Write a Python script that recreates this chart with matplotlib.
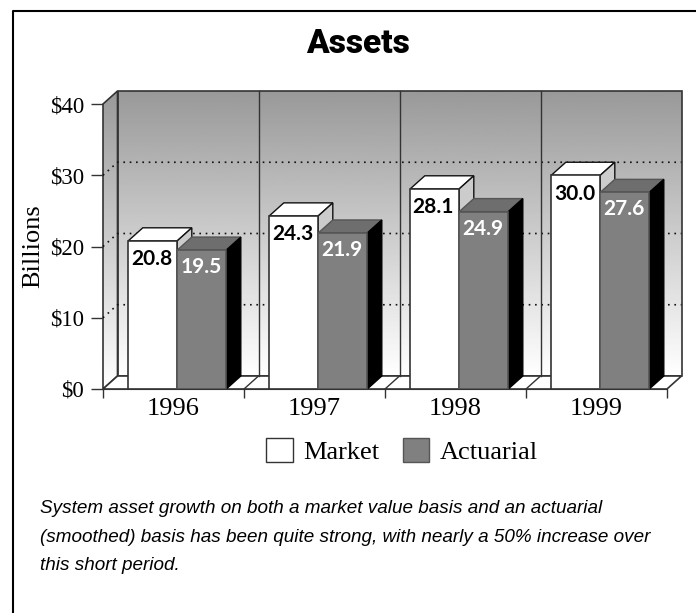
import numpy as np
import matplotlib
matplotlib.use('Agg')
import matplotlib.pyplot as plt
from matplotlib.lines import Line2D
from matplotlib.patches import Patch, Polygon

years = ['1996', '1997', '1998', '1999']
market = [20.8, 24.3, 28.1, 30.0]
actuarial = [19.5, 21.9, 24.9, 27.6]
yticks = [0, 10, 20, 30, 40]
ylabels = ['$0', '$10', '$20', '$30', '$40']
caption = ('System asset growth on both a market value basis and an actuarial\n'
           '(smoothed) basis has been quite strong, with nearly a 50% increase over\n'
           'this short period.')

W, H = 696, 613
SERIF = 'Liberation Serif'
SANS = 'Lato'
EDGE = '#333333'
GREY = '#808080'

fig = plt.figure(figsize=(W / 100, H / 100), dpi=100)
ax = fig.add_axes([103 / W, 1 - 389 / H, 564 / W, 285 / H])
ax.set_xlim(0, 4)
ax.set_ylim(0, 40)

# depth of the fake 3d box, in data units
dx = 14.5 / 141
dy = 13 / 7.125
bar_w = 49 / 141
bar_off = 25.3 / 141

grad = np.linspace(0.6, 1, 256).reshape(-1, 1)
ax.imshow(grad, cmap='gray', vmin=0, vmax=1, aspect='auto', zorder=1,
          extent=(dx, 4 + dx, dy, 40 + dy), clip_on=False)
side = ax.imshow(grad, cmap='gray', vmin=0, vmax=1, aspect='auto', zorder=1,
                 extent=(0, dx, 0, 40 + dy))
wall = Polygon([(0, 0), (0, 40), (dx, 40 + dy), (dx, dy)], closed=True, fill=False,
               edgecolor=EDGE, lw=1.2, zorder=2, clip_on=False)
ax.add_patch(wall)
side.set_clip_path(wall)
side.set_clip_box(fig.bbox)
ax.set_xlim(0, 4)
ax.set_ylim(0, 40)

# back wall outline, floor
ax.add_patch(Polygon([(dx, dy), (dx, 40 + dy), (4 + dx, 40 + dy), (4 + dx, dy)], closed=True,
                     fill=False, edgecolor=EDGE, lw=1.2, zorder=2, clip_on=False))
ax.add_patch(Polygon([(0, 0), (dx, dy), (4 + dx, dy), (4, 0)], closed=True,
                     facecolor='white', edgecolor=EDGE, lw=1.2, zorder=2, clip_on=False))

for v in yticks[1:-1]:
    ax.plot([0, dx, 4 + dx], [v, v + dy, v + dy], color='#111111', lw=1.2,
            ls=(0, (1, 2.8)), zorder=3, clip_on=False)
for i in range(1, 4):
    ax.plot([i + dx, i + dx], [dy, 40 + dy], color=EDGE, lw=1, zorder=3, clip_on=False)
    ax.plot([i, i + dx], [0, dy], color=EDGE, lw=1, zorder=3)

for i in range(len(years)):
    x1 = i + bar_off
    x2 = x1 + bar_w
    x3 = x2 + bar_w
    m, a = market[i], actuarial[i]
    # market bar
    ax.add_patch(Polygon([(x1, m), (x1 + dx, m + dy), (x2 + dx, m + dy), (x2, m)],
                         facecolor='white', edgecolor='#111111', lw=1, zorder=4))
    ax.add_patch(Polygon([(x2, 0), (x2 + dx, dy), (x2 + dx, m + dy), (x2, m)],
                         facecolor='#cccccc', edgecolor='#111111', lw=1, zorder=4))
    ax.bar(x1, m, bar_w, align='edge', color='white', edgecolor=EDGE, lw=1.2, zorder=4)
    # actuarial bar
    ax.add_patch(Polygon([(x2, a), (x2 + dx, a + dy), (x3 + dx, a + dy), (x3, a)],
                         facecolor='#6e6e6e', edgecolor='#555555', lw=1, zorder=5))
    ax.add_patch(Polygon([(x3, 0), (x3 + dx, dy), (x3 + dx, a + dy), (x3, a)],
                         facecolor='black', edgecolor='black', lw=1, zorder=5))
    ax.bar(x2, a, bar_w, align='edge', color=GREY, edgecolor='#555555', lw=1.2, zorder=5)
    ax.annotate(f'{m:.1f}', (x1 + bar_w / 2, m), xytext=(-1, -6), textcoords='offset points',
                ha='center', va='top', family=SANS, weight='bold', fontsize=15, color='black', zorder=6)
    ax.annotate(f'{a:.1f}', (x2 + bar_w / 2, a), xytext=(-0.5, -5), textcoords='offset points',
                ha='center', va='top', family=SANS, weight='bold', fontsize=15, color='white', zorder=6)

for s in ['top', 'right', 'left']:
    ax.spines[s].set_visible(False)
ax.spines['bottom'].set_color(EDGE)
ax.spines['bottom'].set_zorder(7)

ax.set_yticks(yticks, ylabels, family=SERIF, fontsize=16.5)
ax.tick_params(axis='y', length=8.5, width=1, color=EDGE, pad=5)
ax.set_xticks(range(5), [''] * 5)
ax.set_xticks(np.arange(len(years)) + 0.5, years, minor=True, family=SERIF, fontsize=19)
ax.tick_params(axis='x', which='major', length=6.5, width=1, color=EDGE)
ax.tick_params(axis='x', which='minor', length=0, pad=6.5)
fig.text(33 / W, 1 - 246 / H, 'Billions', rotation=90, ha='center', va='center',
         family=SERIF, fontsize=19)

fig.text(358 / W, 1 - 44 / H, 'Assets', ha='center', va='center', family='Roboto',
         weight='black', fontsize=24)

handles = [Patch(facecolor='white', edgecolor=EDGE, label='Market'),
           Patch(facecolor=GREY, edgecolor='#555555', label='Actuarial')]
leg = fig.legend(handles=handles, ncol=2, frameon=False, loc='center', bbox_to_anchor=(402 / W, 1 - 451 / H),
                 prop={'family': SERIF, 'size': 19}, handlelength=1.0, handleheight=1.0,
                 handletextpad=0.38, columnspacing=0.91)

fig.text(40 / W, 1 - 537 / H, caption, ha='left', va='center', family='Liberation Sans',
         style='italic', fontsize=13.6, linespacing=1.92)

# page frame, open at right and bottom
fig.add_artist(Line2D([13 / W, 13 / W, 1], [0, 1 - 10.5 / H, 1 - 10.5 / H], color='black', lw=1.5))

fig.savefig('out.png', dpi=100)
